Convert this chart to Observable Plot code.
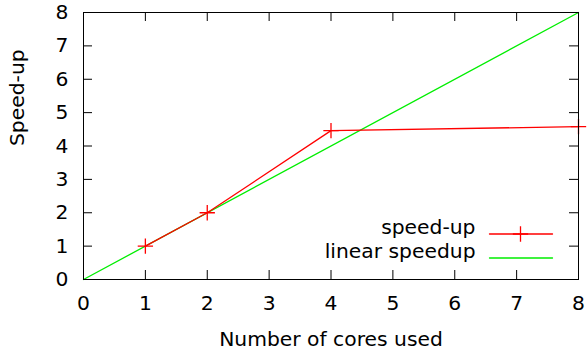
<!DOCTYPE html>
<html>
<head>
<meta charset="utf-8">
<script src="https://cdn.jsdelivr.net/npm/d3@7"></script>
<script src="https://cdn.jsdelivr.net/npm/@observablehq/plot@0.6"></script>
<style>
  html, body { margin: 0; padding: 0; background: #fff; }
</style>
</head>
<body>
<div id="chart"></div>
<script>
const cores = [1, 2, 4, 8];
const speedup = [1.0, 2.0, 4.46, 4.58];
const linearCores = [0, 8];
const linearSpeedup = [0, 8];
const xTicks = [0, 1, 2, 3, 4, 5, 6, 7, 8];
const yTicks = [0, 1, 2, 3, 4, 5, 6, 7, 8];
const xLabel = "Number of cores used";
const yLabel = "Speed-up";
const seriesNames = ["speed-up", "linear speedup"];
const seriesColors = ["#ff0000", "#00ee00"];

const speedData = cores.map((c, i) => ({x: c, y: speedup[i]}));
const linearData = linearCores.map((c, i) => ({x: c, y: linearSpeedup[i]}));

const FONT = 20.3;
const TICK = 9;
const LW = 1.3;
const MR = 5;
const lineShape = {draw(ctx, l) { ctx.moveTo(0, 0); ctx.lineTo(0, -l); }};

const chart = Plot.plot({
  width: 587,
  height: 351,
  marginLeft: 83,
  marginRight: 9,
  marginTop: 12,
  marginBottom: 72,
  x: {domain: [0, 8]},
  y: {domain: [0, 8]},
  style: {fontFamily: "DejaVu Sans", fontSize: FONT + "px", color: "black", background: "white"},
  marks: [
    Plot.axisX({ticks: xTicks, tickSize: 0, tickPadding: 16, label: null, fontSize: FONT, tickFormat: d3.format("d")}),
    Plot.axisY({ticks: yTicks, tickSize: 0, tickPadding: 15, label: null, fontSize: FONT, tickFormat: d3.format("d")}),
    Plot.tickX(xTicks, {x: d => d, stroke: "black", insetTop: 267 - TICK}),
    Plot.tickX(xTicks, {x: d => d, stroke: "black", insetBottom: 267 - TICK}),
    Plot.tickY(yTicks, {y: d => d, stroke: "black", insetRight: 495 - TICK}),
    Plot.tickY(yTicks, {y: d => d, stroke: "black", insetLeft: 495 - TICK}),
    Plot.line(linearData, {x: "x", y: "y", stroke: seriesColors[1], strokeWidth: LW}),
    Plot.line(speedData, {x: "x", y: "y", stroke: seriesColors[0], strokeWidth: LW}),
    Plot.dot(speedData, {x: "x", y: "y", symbol: "plus", r: MR, stroke: seriesColors[0], strokeWidth: LW, fill: "none"}),
    Plot.frame({stroke: "black", strokeWidth: 1}),
    Plot.text([xLabel], {text: d => d, frameAnchor: "bottom", lineAnchor: "top", dy: 52, fontSize: FONT, fill: "black"}),
    Plot.text([yLabel], {text: d => d, frameAnchor: "left", rotate: -90, dx: -66, fontSize: FONT, fill: "black"}),
    Plot.text([seriesNames[0]], {text: d => d, frameAnchor: "bottom-right", dx: -103, dy: -46, textAnchor: "end", fontSize: FONT, fill: "black"}),
    Plot.text([seriesNames[1]], {text: d => d, frameAnchor: "bottom-right", dx: -103, dy: -22, textAnchor: "end", fontSize: FONT, fill: "black"}),
    Plot.vector([seriesNames[0]], {frameAnchor: "bottom-right", dx: -89, dy: -45.5, length: 63, rotate: 90, anchor: "start", shape: lineShape, stroke: seriesColors[0], strokeWidth: LW}),
    Plot.vector([seriesNames[1]], {frameAnchor: "bottom-right", dx: -89, dy: -21.5, length: 63, rotate: 90, anchor: "start", shape: lineShape, stroke: seriesColors[1], strokeWidth: LW}),
    Plot.dot([seriesNames[0]], {frameAnchor: "bottom-right", dx: -58, dy: -45.5, symbol: "plus", r: MR, stroke: seriesColors[0], strokeWidth: LW, fill: "none"})
  ]
});
document.getElementById("chart").appendChild(chart);
</script>
</body>
</html>
